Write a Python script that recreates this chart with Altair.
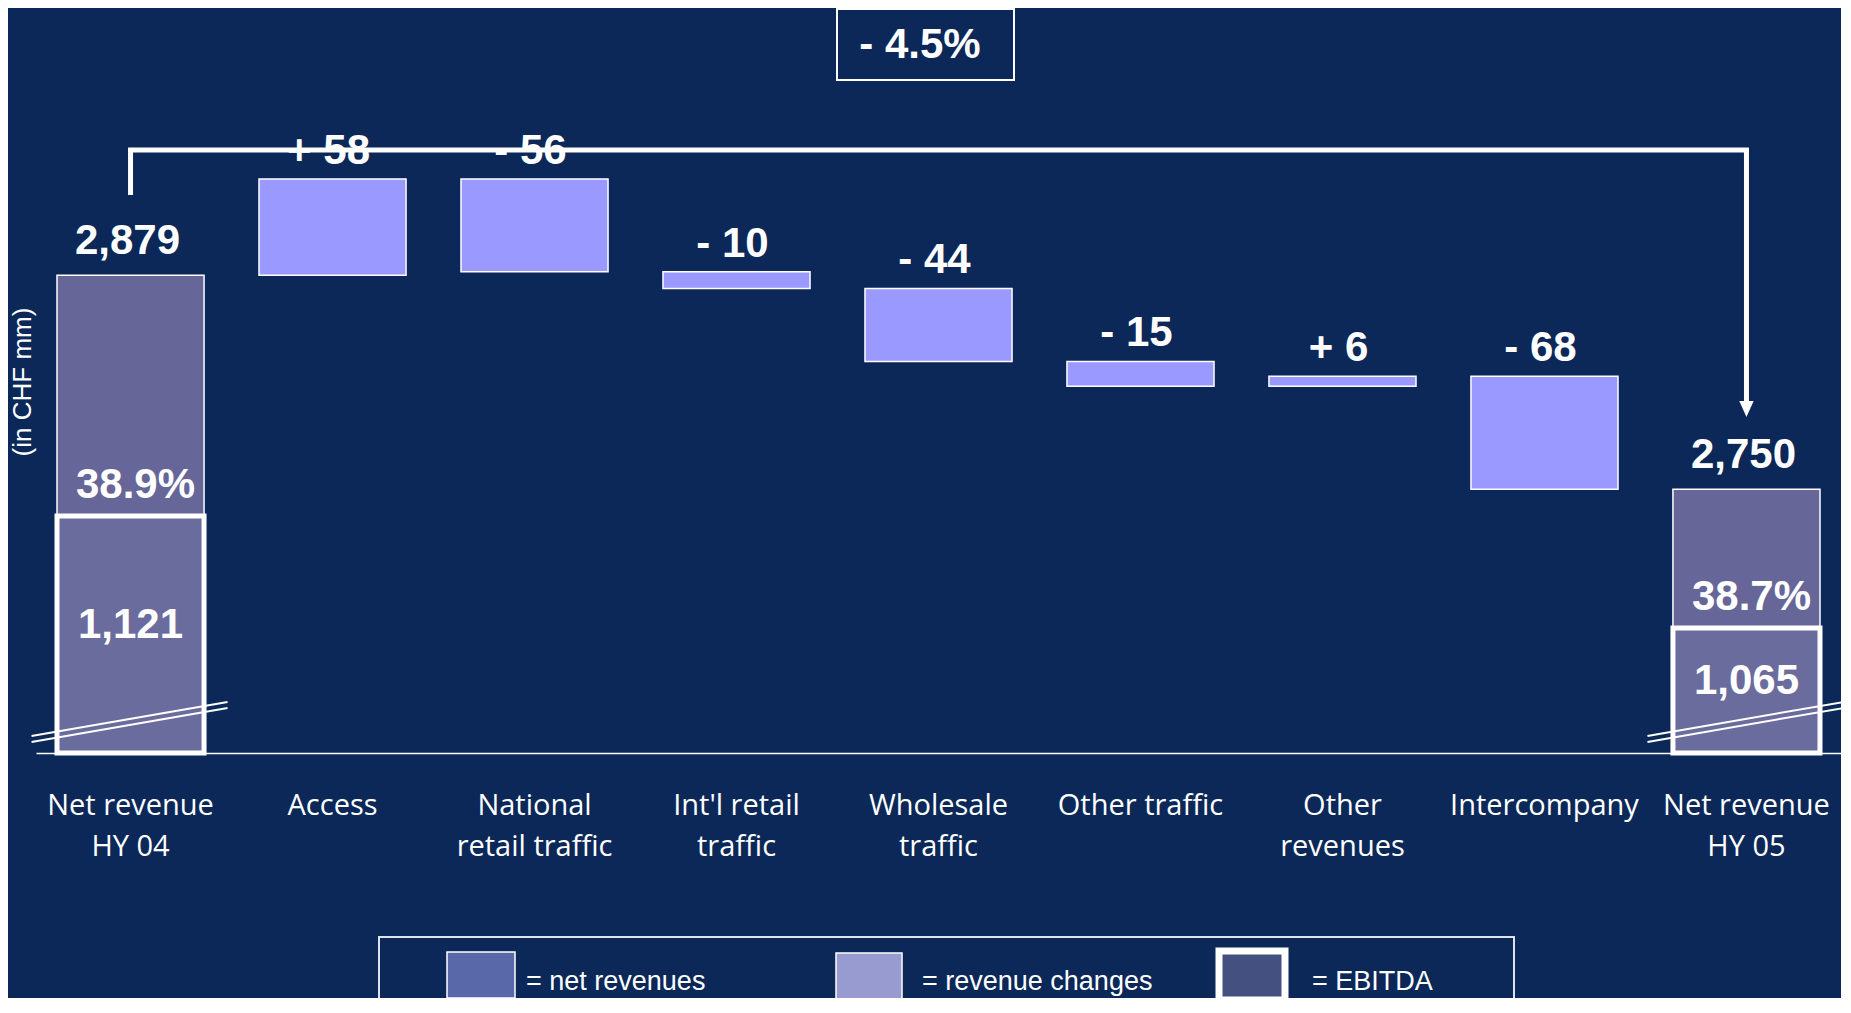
import altair as alt
import pandas as pd

# ---------------- data ----------------
categories = ["Net revenue|HY 04", "Access", "National|retail traffic", "Int'l retail|traffic",
              "Wholesale|traffic", "Other traffic", "Other|revenues", "Intercompany", "Net revenue|HY 05"]
kinds = ["total", "change", "change", "change", "change", "change", "change", "change", "total"]
values = [2879, 58, -56, -10, -44, -15, 6, -68, 2750]
ebitda_values = [1121, 1065]          # EBITDA of the two totals
legend_labels = ["= net revenues", "= revenue changes", "= EBITDA"]
y_title = "(in CHF mm)"

# ---------------- display parameters ----------------
BG = "#0b2858"
FONT = "Liberation Sans"
LABEL_FONT = "Open Sans"
W, H = 1805, 745
AXIS_FLOOR, AXIS_CEIL = 2591, 3040          # broken value axis for revenues
EBITDA_FLOOR = 1002.5                       # broken axis for EBITDA boxes
EBITDA_CEIL = EBITDA_FLOOR + H / 2

rows = []
running = None
for cat, kind, v in zip(categories, kinds, values):
    if kind == "total":
        lo, hi = AXIS_FLOOR, v
        running = v
        label = f"{v:,}"
    else:
        start = running
        running = running + v
        lo, hi = min(start, running), max(start, running)
        label = ("+ " if v > 0 else "- ") + str(abs(v))
    rows.append({"cat": cat, "kind": kind, "value": v, "lo": lo, "hi": hi, "label": label})
bars = pd.DataFrame(rows)
totals = bars[bars.kind == "total"].copy()
totals["ebitda"] = ebitda_values
totals["ebitda_label"] = totals["ebitda"].map(lambda x: f"{x:,}")
totals["margin_label"] = (totals["ebitda"] / totals["value"] * 100).map(lambda x: f"{x:.1f}%")
totals["ebitda_mid"] = (totals["ebitda"] + EBITDA_FLOOR) / 2
changes = bars[bars.kind == "change"]

pct = (values[-1] - values[0]) / values[0] * 100
pct_label = ("+ " if pct > 0 else "- ") + f"{abs(pct):.1f}%"

# ---------------- encodings ----------------
x_enc = alt.X(
    "cat:N",
    scale=alt.Scale(domain=categories, paddingInner=0.272, paddingOuter=0.104),
    axis=alt.Axis(title=None, labelExpr="split(datum.label, '|')", labelAngle=0, ticks=False,
                  domainColor="white", domainWidth=1.5, labelColor="white", labelFont=LABEL_FONT,
                  labelFontSize=29, labelLineHeight=41, labelPadding=38, labelLimit=0, grid=False,
                  labelOverlap=False),
)


def y_main(field):
    return alt.Y(f"{field}:Q", scale=alt.Scale(domain=[AXIS_FLOOR, AXIS_CEIL], nice=False, zero=False),
                 axis=None)


def y_eb(field):
    return alt.Y(f"{field}:Q", scale=alt.Scale(domain=[EBITDA_FLOOR, EBITDA_CEIL], nice=False, zero=False),
                 axis=None)


bold = dict(font=FONT, fontSize=42, fontWeight="bold", color="white")

total_bars = alt.Chart(totals).mark_bar(fill="#666699", stroke="white", strokeWidth=1.5).encode(
    x=x_enc, y=y_main("hi"), y2=alt.Y2("lo"))

ebitda_box = alt.Chart(totals).mark_bar(fill="#6b6c9e", stroke="white", strokeWidth=5).encode(
    x=x_enc, y=y_eb("ebitda"), y2=alt.datum(EBITDA_FLOOR))

breaks = [
    alt.Chart(totals).mark_rule(color="white", strokeWidth=2, xOffset=-99, x2Offset=97).encode(
        x=x_enc, x2=alt.X2("cat"), y=alt.value(728 + off), y2=alt.value(694 + off))
    for off in (0, 6)
]

change_bars = alt.Chart(changes).mark_bar(fill="#9999ff", stroke="white", strokeWidth=1.5).encode(
    x=x_enc, y=y_main("hi"), y2=alt.Y2("lo"))

total_labels = alt.Chart(totals).mark_text(baseline="alphabetic", dy=-21, dx=-3, **bold).encode(
    x=x_enc, y=y_main("hi"), text="label")
change_labels = alt.Chart(changes).mark_text(baseline="alphabetic", dy=-15, dx=-4, **bold).encode(
    x=x_enc, y=y_main("hi"), text="label")
margin_labels = alt.Chart(totals).mark_text(baseline="alphabetic", dy=-18, dx=5, **bold).encode(
    x=x_enc, y=y_eb("ebitda"), text="margin_label")
ebitda_labels = alt.Chart(totals).mark_text(baseline="middle", dy=-10, **bold).encode(
    x=x_enc, y=y_eb("ebitda_mid"), text="ebitda_label")

# bracket from first to last total
first_df = pd.DataFrame({"cat": [categories[0]], "cat_end": [categories[-1]]})
last_df = pd.DataFrame({"cat": [categories[-1]]})
br_left = alt.Chart(first_df).mark_rule(color="white", strokeWidth=5).encode(
    x=x_enc, y=alt.value(142), y2=alt.value(187))
br_top = alt.Chart(first_df).mark_rule(color="white", strokeWidth=5, strokeCap="square").encode(
    x=x_enc, x2=alt.X2("cat_end"), y=alt.value(142))
br_right = alt.Chart(last_df).mark_rule(color="white", strokeWidth=5).encode(
    x=x_enc, y=alt.value(142), y2=alt.value(396))
arrow = alt.Chart(last_df).mark_point(shape="M-0.9,-1L0.9,-1L0,1Z", filled=True, size=256,
                                      color="white", opacity=1).encode(x=x_enc, y=alt.value(401))

# percentage change box
pct_df = pd.DataFrame({"label": [pct_label]})
pct_box = alt.Chart(pct_df).mark_rect(fill=BG, stroke="white", strokeWidth=2).encode(
    x=alt.value(801), x2=alt.value(978), y=alt.value(1), y2=alt.value(72))
pct_text = alt.Chart(pct_df).mark_text(align="center", baseline="alphabetic", **bold).encode(
    x=alt.value(884), y=alt.value(50), text="label")

# y title
ytitle = alt.Chart(pd.DataFrame({"t": [y_title]})).mark_text(
    angle=270, font=FONT, fontSize=26, color="white", align="center", baseline="middle").encode(
    x=alt.value(-13), y=alt.value(374), text="t")

# custom legend
leg_df = pd.DataFrame({"label": legend_labels})
legend_box = alt.Chart(leg_df.head(1)).mark_rect(fill=BG, stroke="#dde2ec", strokeWidth=2).encode(
    x=alt.value(343), x2=alt.value(1478), y=alt.value(929), y2=alt.value(1010))
sw_specs = [  # x, x2, y, y2, fill, strokeWidth
    (411, 479, 944, 990, "#5868a8", 1.5),
    (800, 866, 945, 993, "#979bd0", 1.5),
    (1183, 1249, 943, 992, "#44507f", 7),
]
text_x = [490, 886, 1276]
legend_layers = [legend_box]
for i, (x1, x2, y1, y2, fill, sw) in enumerate(sw_specs):
    item = leg_df.iloc[[i]]
    legend_layers.append(alt.Chart(item).mark_rect(fill=fill, stroke="white", strokeWidth=sw).encode(
        x=alt.value(x1), x2=alt.value(x2), y=alt.value(y1), y2=alt.value(y2)))
    legend_layers.append(alt.Chart(item).mark_text(font=FONT, fontSize=27, color="white", align="left",
                                                   baseline="alphabetic").encode(
        x=alt.value(text_x[i]), y=alt.value(982), text="label"))

chart = alt.layer(
    total_bars, ebitda_box, *breaks, change_bars,
    total_labels, change_labels, margin_labels, ebitda_labels,
    br_left, br_top, br_right, arrow, pct_box, pct_text, ytitle, *legend_layers,
).resolve_scale(y="independent").properties(
    width=W, height=H, background=BG,
    padding={"left": 28, "top": 0, "right": 0, "bottom": 245},
    autosize=alt.AutoSizeParams(type="none"),
).configure_view(strokeWidth=0)

chart.save("out.html", embed_options={"renderer": "svg", "actions": False})
